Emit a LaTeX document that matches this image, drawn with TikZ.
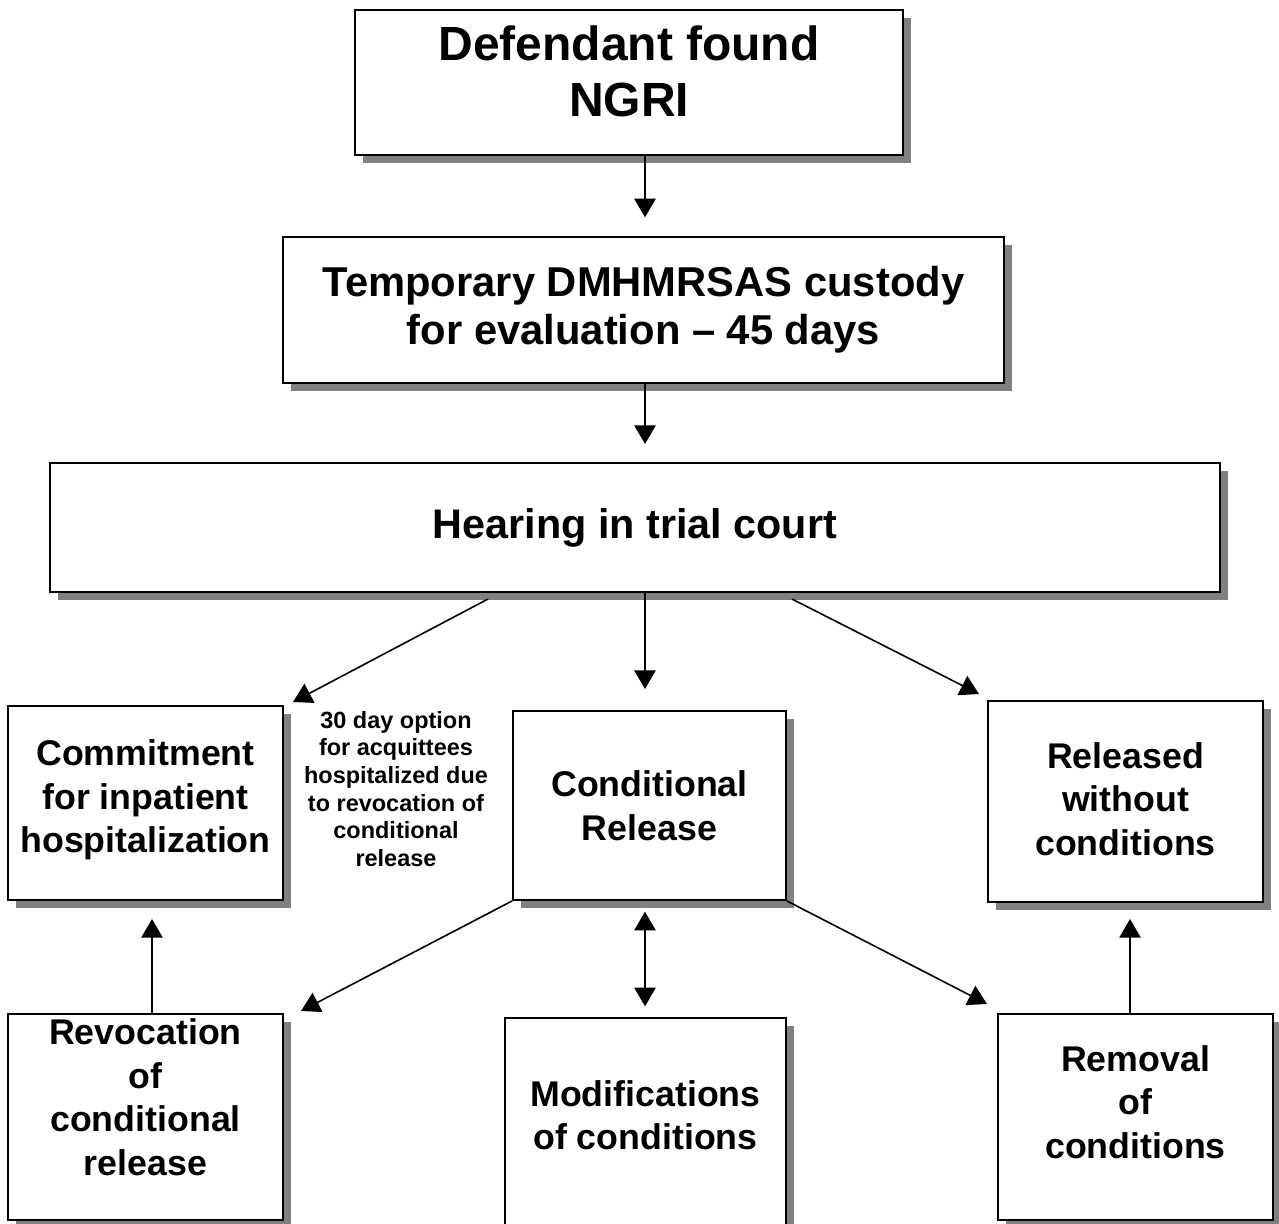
\documentclass[tikz,border=0pt]{standalone}
\usepackage{fontspec}
\setmainfont{Liberation Sans}
\usetikzlibrary{arrows.meta,shadows,calc}
\definecolor{shadowgray}{RGB}{128,128,128}
% extra depth below the last line, to lift a text inside its box
\newcommand{\lift}[1]{\rule[-#1]{0pt}{#1}}

\begin{document}
\begin{tikzpicture}[>={Triangle[length=14pt,width=16pt]},x=0.75pt,y=-0.75pt,
  box/.style={draw,line width=1.5pt,fill=white,align=center,inner sep=2pt,
    font=\bfseries\fontsize{26.8}{32.6}\selectfont,
    drop shadow={shadow xshift=6pt,shadow yshift=-6pt,fill=shadowgray,opacity=1}},
  flow/.style={->,line width=1.2pt}]
  \useasboundingbox (0,0) rectangle (1279,1224);
  % Top of the chart
  \node[box,minimum width=411pt,minimum height=108.75pt,font=\bfseries\fontsize{36}{42}\selectfont] (ngri) at (629,82.5) {Defendant found\\NGRI\lift{17pt}};
  \node[box,minimum width=540.75pt,minimum height=109.5pt,font=\bfseries\fontsize{31.3}{36}\selectfont] (temp) at (643.5,310) {Temporary DMHMRSAS custody\\for evaluation -- 45 days};
  \node[box,minimum width=877.5pt,minimum height=96.75pt,font=\bfseries\fontsize{31}{36}\selectfont] (hear) at (635,527.5) {Hearing in trial court};
  % Outcomes of the hearing
  \node[box,minimum width=206.25pt,minimum height=145.5pt] (commit) at (145.5,803) {Commitment\\for inpatient\\hospitalization\lift{10pt}};
  \node[box,minimum width=204.75pt,minimum height=141.75pt] (cond) at (649.5,805.5) {Conditional\\Release};
  \node[box,minimum width=206.25pt,minimum height=150.75pt] (relwo) at (1125.5,801.5) {Released\\without\\conditions\lift{4pt}};
  \node[font=\bfseries\fontsize{17.6}{20.8}\selectfont,align=center,inner sep=0pt] (note) at (396,789) {30 day option\\for acquittees\\hospitalized due\\to revocation of\\conditional\\release};
  % Changes to a conditional release
  \node[box,minimum width=206.25pt,minimum height=154.5pt] (revoc) at (145.5,1117) {Revocation\\of\\conditional\\release\lift{30pt}};
  \node[box,minimum width=210.75pt,minimum height=166.5pt] (modif) at (645.5,1129) {Modifications\\of conditions\lift{21pt}};
  \node[box,minimum width=206.25pt,minimum height=154.5pt] (remov) at (1135.5,1117) {Removal\\of\\conditions\lift{22.5pt}};
  % Connectors
  \coordinate (axis) at (645,0);
  \draw[flow,shorten >=14pt] (axis |- ngri.south) -- (axis |- temp.north);
  \draw[flow,shorten >=13.5pt] (axis |- temp.south) -- (axis |- hear.north);
  \draw[flow,shorten >=15.75pt] (axis |- hear.south) -- (axis |- cond.north);
  \draw[flow] ($(hear.south)+(-147,6)$) -- ($(commit.north east)+(9,-3)$);
  \draw[flow] ($(hear.south)+(157,6)$) -- ($(relwo.north west)+(-8,-6)$);
  \draw[flow,<->,shorten <=8pt,shorten >=8pt] (axis |- cond.south) -- (axis |- modif.north);
  \draw[flow] (cond.south west) -- ($(revoc.north east)+(17,-2)$);
  \draw[flow] (cond.south east) -- ($(remov.north west)+(-10,-9)$);
  \draw[flow,shorten >=13.5pt] ($(revoc.north)+(6.5,0)$) -- ($(commit.south)+(6.5,0)$);
  \draw[flow,shorten >=12pt] ($(remov.north)+(-5.5,0)$) -- ($(relwo.south)+(4.5,0)$);
\end{tikzpicture}
\end{document}
